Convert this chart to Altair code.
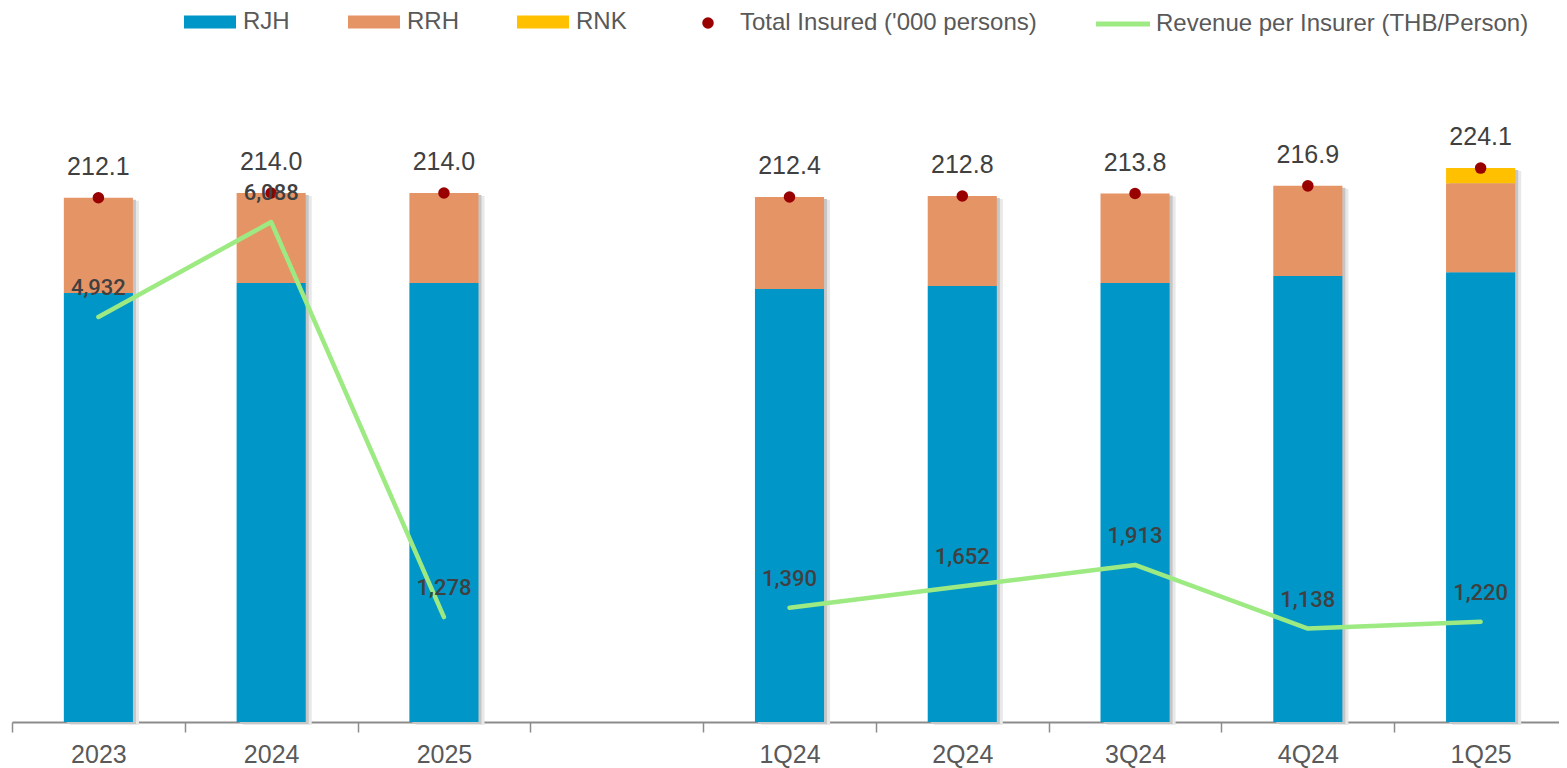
import altair as alt
import pandas as pd

# ---- data ----
categories = ["2023", "2024", "2025", " ", "1Q24", "2Q24", "3Q24", "4Q24", "1Q25"]
periods = ["2023", "2024", "2025", "1Q24", "2Q24", "3Q24", "4Q24", "1Q25"]
groups = ["annual", "annual", "annual", "quarter", "quarter", "quarter", "quarter", "quarter"]
rjh = [173.6, 177.6, 177.6, 175.2, 176.4, 177.6, 180.4, 182.0]
rrh = [38.5, 36.4, 36.4, 37.2, 36.4, 36.2, 36.5, 36.0]
rnk = [0.0, 0.0, 0.0, 0.0, 0.0, 0.0, 0.0, 6.1]
total_insured = [212.1, 214.0, 214.0, 212.4, 212.8, 213.8, 216.9, 224.1]
revenue = [4932, 6088, 1278, 1390, 1652, 1913, 1138, 1220]

series_names = ["RJH", "RRH", "RNK"]
series_colors = ["#0096C8", "#E59466", "#FFC000"]
dot_label = "Total Insured ('000 persons)"
line_label = "Revenue per Insurer (THB/Person)"

rows = []
for i, p in enumerate(periods):
    for k, (name, vals) in enumerate(zip(series_names, [rjh, rrh, rnk])):
        rows.append({"period": p, "series": name, "value": vals[i], "order": k})
bars_df = pd.DataFrame(rows)

pts_df = pd.DataFrame({
    "period": periods,
    "grp": groups,
    "total": total_insured,
    "revenue": revenue,
    "dot_lbl": [dot_label] * len(periods),
    "line_lbl": [line_label] * len(periods),
})

FONT = "Liberation Sans"
Y_BAR = alt.Scale(domain=[0, 265.8], nice=False, zero=True)
Y_LINE = alt.Scale(domain=[0, 8000], nice=False, zero=True)

x_enc = alt.X("period:N", sort=categories, title=None,
              scale=alt.Scale(domain=categories, paddingInner=0, paddingOuter=0,
                              round=False, range=[0, 1555]))

base_pts = alt.Chart(pts_df)

shadow2 = base_pts.mark_bar(width=alt.RelativeBandSize(0.4), color="#e8e8e8").encode(
    x=x_enc, y=alt.Y("total:Q", scale=Y_BAR, axis=None),
    xOffset=alt.value(6), yOffset=alt.value(3))
shadow1 = base_pts.mark_bar(width=alt.RelativeBandSize(0.4), color="#c6c6c6").encode(
    x=x_enc, y=alt.Y("total:Q", scale=Y_BAR, axis=None),
    xOffset=alt.value(3), yOffset=alt.value(2))

bars = alt.Chart(bars_df).mark_bar(width=alt.RelativeBandSize(0.4)).encode(
    x=x_enc,
    y=alt.Y("value:Q", stack="zero", scale=Y_BAR, axis=None),
    color=alt.Color("series:N",
                    scale=alt.Scale(domain=series_names, range=series_colors),
                    legend=alt.Legend(title=None, orient="none", direction="horizontal",
                                      legendX=185, legendY=-56,
                                      symbolType="M-2,-0.5L2,-0.5L2,0.5L-2,0.5Z",
                                      symbolSize=676, symbolStrokeWidth=0,
                                      labelFont=FONT, labelFontSize=24, labelColor="#595959",
                                      labelOffset=20, columnPadding=58, labelLimit=600)),
    order=alt.Order("order:Q", sort="ascending"),
)

dots = base_pts.mark_point(filled=True, opacity=1, size=133, color="#990000").encode(
    x=x_enc,
    y=alt.Y("total:Q", scale=Y_BAR, axis=None),
    shape=alt.Shape("dot_lbl:N", scale=alt.Scale(range=["circle"]),
                    legend=alt.Legend(title=None, orient="none", legendX=684, legendY=-54,
                                      symbolSize=133, symbolFillColor="#990000",
                                      symbolStrokeWidth=0,
                                      labelFont=FONT, labelFontSize=24, labelColor="#595959",
                                      labelOffset=20, labelLimit=600)),
)

total_text = base_pts.mark_text(dy=-23, baseline="alphabetic", fontSize=25, font=FONT,
                                color="#404040").encode(
    x=x_enc,
    y=alt.Y("total:Q", scale=Y_BAR, axis=None),
    text=alt.Text("total:Q", format=".1f"),
)

line = base_pts.mark_line(strokeWidth=4.5, strokeCap="round", strokeJoin="round").encode(
    x=x_enc,
    y=alt.Y("revenue:Q", scale=Y_LINE, axis=None),
    detail="grp:N",
    stroke=alt.Stroke("line_lbl:N", scale=alt.Scale(range=["#9DEA82"]),
                      legend=alt.Legend(title=None, orient="none", legendX=1095, legendY=-57,
                                        symbolType="M-2,0L2,0", symbolSize=729,
                                        symbolStrokeWidth=5,
                                        labelFont=FONT, labelFontSize=24, labelColor="#595959",
                                        labelOffset=17, labelLimit=600)),
)

line_text = base_pts.mark_text(dy=-22, baseline="alphabetic", fontSize=22,
                               font="Roboto", fontWeight=500,
                               color="#404040").encode(
    x=x_enc,
    y=alt.Y("revenue:Q", scale=Y_LINE, axis=None),
    text=alt.Text("revenue:Q", format=",d"),
)

chart = alt.layer(shadow2, shadow1, bars, dots, total_text, line, line_text).resolve_scale(
    y="independent"
).properties(
    width=1547, height=657,
    autosize=alt.AutoSizeParams(type="none"),
    padding={"left": 4, "right": 0, "top": 57, "bottom": 50},
).configure_view(stroke=None).configure_axisX(
    labelFont=FONT, labelFontSize=25, labelColor="#595959", labelAngle=0,
    labelBaseline="alphabetic", labelPadding=30,
    domainColor="#8c8c8c", domainWidth=2, tickColor="#8c8c8c", tickWidth=1.5,
    tickSize=10, tickBand="extent", grid=False,
)

chart.save("out.html", embed_options={"renderer": "svg", "actions": False})
